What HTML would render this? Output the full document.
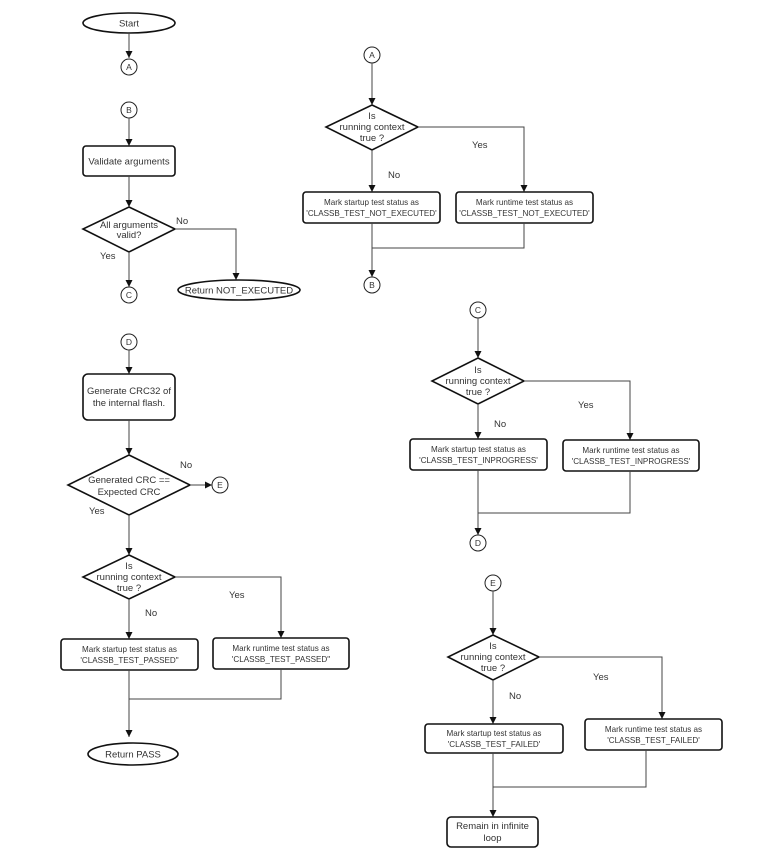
<!DOCTYPE html>
<html><head><meta charset="utf-8"><style>
html,body{margin:0;padding:0;background:#fff;}
svg{display:block;}
text{font-family:"Liberation Sans",Arial,sans-serif;fill:#333;}
.s{fill:#fff;stroke:#111;stroke-width:1.6;}
.l{fill:none;stroke:#444;stroke-width:1;}
.c{fill:#fff;stroke:#222;stroke-width:1;}
.t{font-size:9.5px;text-anchor:middle;}
.m{font-size:8.1px;text-anchor:middle;}
.lb{font-size:9.5px;}
.k{font-size:8.5px;text-anchor:middle;}
</style></head><body>
<svg width="783" height="862" viewBox="0 0 783 862" xmlns="http://www.w3.org/2000/svg">
<defs><marker id="a" markerWidth="7" markerHeight="7" refX="7" refY="3.5" orient="auto" markerUnits="userSpaceOnUse"><path d="M0,0 L7,3.5 L0,7 z" fill="#111"/></marker></defs>

<ellipse class="s" cx="129" cy="23" rx="46" ry="10"/>
<text class="t" x="129" y="26.5">Start</text>
<line class="l" x1="129" y1="33" x2="129" y2="58" marker-end="url(#a)"/>
<circle class="c" cx="129" cy="67" r="8"/><text class="k" x="129" y="70">A</text>

<circle class="c" cx="129" cy="110" r="8"/><text class="k" x="129" y="113">B</text>
<line class="l" x1="129" y1="118" x2="129" y2="146" marker-end="url(#a)"/>
<rect class="s" x="83" y="146" width="92" height="30" rx="3"/>
<text class="t" x="129" y="164.5">Validate arguments</text>
<line class="l" x1="129" y1="176" x2="129" y2="207" marker-end="url(#a)"/>
<polygon class="s" points="129,207 175,229 129,252 83,229"/>
<text class="t" x="129" y="228">All arguments</text>
<text class="t" x="129" y="238">valid?</text>
<polyline class="l" points="175,229 236,229 236,280" marker-end="url(#a)"/>
<text class="lb" x="176" y="224">No</text>
<text class="lb" x="100" y="259">Yes</text>
<line class="l" x1="129" y1="252" x2="129" y2="287" marker-end="url(#a)"/>
<circle class="c" cx="129" cy="295" r="8"/><text class="k" x="129" y="298">C</text>
<ellipse class="s" cx="239" cy="290" rx="61" ry="10"/>
<text class="t" x="239" y="293.5">Return NOT_EXECUTED</text>

<circle class="c" cx="129" cy="342" r="8"/><text class="k" x="129" y="345">D</text>
<line class="l" x1="129" y1="350" x2="129" y2="374" marker-end="url(#a)"/>
<rect class="s" x="83" y="374" width="92" height="46" rx="5"/>
<text class="t" x="129" y="394">Generate CRC32 of</text>
<text class="t" x="129" y="406">the internal flash.</text>
<line class="l" x1="129" y1="420" x2="129" y2="455" marker-end="url(#a)"/>
<polygon class="s" points="129,455 190,485 129,515 68,485"/>
<text class="t" x="129" y="483">Generated CRC ==</text>
<text class="t" x="129" y="495">Expected CRC</text>
<line class="l" x1="190" y1="485" x2="212" y2="485" marker-end="url(#a)"/>
<circle class="c" cx="220" cy="485" r="8"/><text class="k" x="220" y="488">E</text>
<text class="lb" x="180" y="468">No</text>
<text class="lb" x="89" y="514">Yes</text>
<line class="l" x1="129" y1="515" x2="129" y2="555" marker-end="url(#a)"/>
<polygon class="s" points="129,555 175,577 129,599 83,577"/>
<text class="t" x="129" y="569">Is</text>
<text class="t" x="129" y="580">running context</text>
<text class="t" x="129" y="591">true ?</text>
<polyline class="l" points="175,577 281,577 281,638" marker-end="url(#a)"/>
<text class="lb" x="229" y="598">Yes</text>
<text class="lb" x="145" y="616">No</text>
<line class="l" x1="129" y1="599" x2="129" y2="639" marker-end="url(#a)"/>
<rect class="s" x="61" y="639" width="137" height="31" rx="3"/>
<text class="m" x="129.5" y="652">Mark startup test status as</text>
<text class="m" x="129.5" y="663">'CLASSB_TEST_PASSED"</text>
<rect class="s" x="213" y="638" width="136" height="31" rx="3"/>
<text class="m" x="281" y="651">Mark runtime test status as</text>
<text class="m" x="281" y="662">'CLASSB_TEST_PASSED"</text>
<polyline class="l" points="281,669 281,699 129,699"/>
<line class="l" x1="129" y1="670" x2="129" y2="737" marker-end="url(#a)"/>
<ellipse class="s" cx="133" cy="754" rx="45" ry="11"/>
<text class="t" x="133" y="757.5">Return PASS</text>

<circle class="c" cx="372" cy="55" r="8"/><text class="k" x="372" y="58">A</text>
<line class="l" x1="372" y1="63" x2="372" y2="105" marker-end="url(#a)"/>
<polygon class="s" points="372,105 418,127 372,150 326,127"/>
<text class="t" x="372" y="119">Is</text>
<text class="t" x="372" y="130">running context</text>
<text class="t" x="372" y="141">true ?</text>
<polyline class="l" points="418,127 524,127 524,192" marker-end="url(#a)"/>
<text class="lb" x="472" y="148">Yes</text>
<text class="lb" x="388" y="178">No</text>
<line class="l" x1="372" y1="150" x2="372" y2="192" marker-end="url(#a)"/>
<rect class="s" x="303" y="192" width="137" height="31" rx="3"/>
<text class="m" x="371.5" y="205">Mark startup test status as</text>
<text class="m" x="371.5" y="216">'CLASSB_TEST_NOT_EXECUTED'</text>
<rect class="s" x="456" y="192" width="137" height="31" rx="3"/>
<text class="m" x="524.5" y="205">Mark runtime test status as</text>
<text class="m" x="524.5" y="216">'CLASSB_TEST_NOT_EXECUTED'</text>
<polyline class="l" points="524,223 524,248 372,248"/>
<line class="l" x1="372" y1="223" x2="372" y2="277" marker-end="url(#a)"/>
<circle class="c" cx="372" cy="285" r="8"/><text class="k" x="372" y="288">B</text>

<circle class="c" cx="478" cy="310" r="8"/><text class="k" x="478" y="313">C</text>
<line class="l" x1="478" y1="318" x2="478" y2="358" marker-end="url(#a)"/>
<polygon class="s" points="478,358 524,381 478,404 432,381"/>
<text class="t" x="478" y="373">Is</text>
<text class="t" x="478" y="384">running context</text>
<text class="t" x="478" y="395">true ?</text>
<polyline class="l" points="524,381 630,381 630,440" marker-end="url(#a)"/>
<text class="lb" x="578" y="408">Yes</text>
<text class="lb" x="494" y="427">No</text>
<line class="l" x1="478" y1="404" x2="478" y2="439" marker-end="url(#a)"/>
<rect class="s" x="410" y="439" width="137" height="31" rx="3"/>
<text class="m" x="478.5" y="452">Mark startup test status as</text>
<text class="m" x="478.5" y="463">'CLASSB_TEST_INPROGRESS'</text>
<rect class="s" x="563" y="440" width="136" height="31" rx="3"/>
<text class="m" x="631" y="453">Mark runtime test status as</text>
<text class="m" x="631" y="464">'CLASSB_TEST_INPROGRESS'</text>
<polyline class="l" points="630,471 630,513 478,513"/>
<line class="l" x1="478" y1="470" x2="478" y2="535" marker-end="url(#a)"/>
<circle class="c" cx="478" cy="543" r="8"/><text class="k" x="478" y="546">D</text>

<circle class="c" cx="493" cy="583" r="8"/><text class="k" x="493" y="586">E</text>
<line class="l" x1="493" y1="591" x2="493" y2="635" marker-end="url(#a)"/>
<polygon class="s" points="493,635 539,657 493,680 448,657"/>
<text class="t" x="493" y="649">Is</text>
<text class="t" x="493" y="660">running context</text>
<text class="t" x="493" y="671">true ?</text>
<polyline class="l" points="539,657 662,657 662,719" marker-end="url(#a)"/>
<text class="lb" x="593" y="680">Yes</text>
<text class="lb" x="509" y="699">No</text>
<line class="l" x1="493" y1="680" x2="493" y2="724" marker-end="url(#a)"/>
<rect class="s" x="425" y="724" width="138" height="29" rx="3"/>
<text class="m" x="494" y="736">Mark startup test status as</text>
<text class="m" x="494" y="747">'CLASSB_TEST_FAILED'</text>
<rect class="s" x="585" y="719" width="137" height="31" rx="3"/>
<text class="m" x="653.5" y="732">Mark runtime test status as</text>
<text class="m" x="653.5" y="743">'CLASSB_TEST_FAILED'</text>
<polyline class="l" points="646,750 646,787 493,787"/>
<line class="l" x1="493" y1="753" x2="493" y2="817" marker-end="url(#a)"/>
<rect class="s" x="447" y="817" width="91" height="30" rx="4"/>
<text class="t" x="492.5" y="829">Remain in infinite</text>
<text class="t" x="492.5" y="841">loop</text>
</svg>
</body></html>
